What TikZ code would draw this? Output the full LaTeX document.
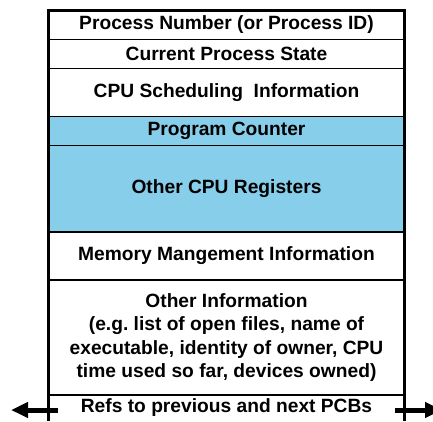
\documentclass[tikz,border=0pt]{standalone}
\usepackage{fontspec}
\setmainfont{Liberation Sans}
\usepackage{xcolor}
\usetikzlibrary{positioning,arrows.meta}

\definecolor{regblue}{RGB}{135,206,235}
\newcommand{\pcbfont}{\fontsize{19.2}{23.3}\selectfont\bfseries\frenchspacing}

\tikzset{
	pcbrow/.style={draw, line width=1.3pt, minimum width=356pt, inner sep=0pt, outer sep=0pt, align=center, font=\pcbfont},
	regrow/.style={pcbrow, fill=regblue},
	pcbframe/.style={line width=3.3pt, line join=miter},
	refarrow/.style={line width=5pt, -{Triangle[length=17pt,width=15pt]}}
}

\begin{document}
\begin{tikzpicture}[x=1pt,y=-1pt]
	\path[use as bounding box, fill=white] (0,0) rectangle (433,421);
	\node[pcbrow, minimum height=29pt] (pid) at (226.5,25) {Process Number (or Process ID)};
	\node[pcbrow, minimum height=29pt, below=0pt of pid] (state) {Current Process State};
	\node[pcbrow, minimum height=48pt, below=0pt of state] (sched) {CPU Scheduling~ Information};
	\node[regrow, minimum height=29pt, below=0pt of sched] (pc) {Program Counter};
	\node[regrow, minimum height=86.5pt, below=0pt of pc] (regs) {Other CPU Registers};
	\node[pcbrow, minimum height=48pt, below=0pt of regs] (mem) {Memory Mangement Information};
	\node[pcbrow, minimum height=115pt, below=0pt of mem] (other) {Other Information\\(e.g. list of open files, name of\\executable, identity of owner, CPU\\time used so far, devices owned)};
	\node[pcbrow, draw=none, minimum height=26pt, below=0pt of other] (refs) {Refs to previous and next PCBs};
	% outer frame, open at the bottom
	\draw[pcbframe] (refs.south west) -- (pid.north west) -- (pid.north east) -- (refs.south east);
	\coordinate (prevpcb) at (11,410);
	\coordinate (nextpcb) at (442,410);
	\draw[refarrow] ([xshift=9.5pt,yshift=-2pt]refs.west) -- (prevpcb);
	\draw[refarrow] ([xshift=-9.5pt,yshift=-2pt]refs.east) -- (nextpcb);
\end{tikzpicture}
\end{document}
